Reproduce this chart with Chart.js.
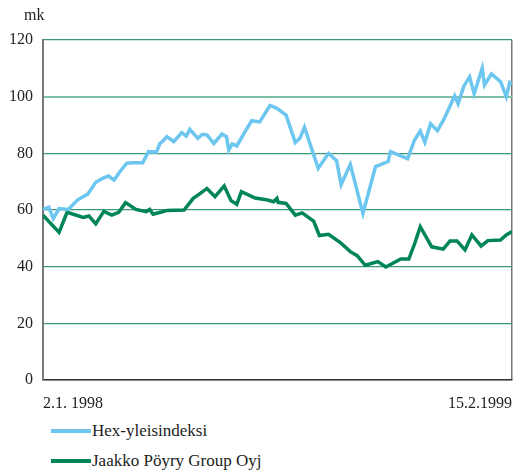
<!DOCTYPE html>
<html>
<head>
<meta charset="utf-8">
<script src="https://cdn.jsdelivr.net/npm/chart.js@4/dist/chart.umd.min.js"></script>
<style>
  html, body { margin: 0; padding: 0; background: #fff; }
  body { width: 514px; height: 473px; position: relative; overflow: hidden; font-family: "Liberation Serif", "DejaVu Serif", serif; color: #222; }
  #wrap { position: absolute; left: 0; top: 0; width: 514px; height: 415px; }
  #unit { position: absolute; left: 24px; top: 6px; font-size: 16px; }
  .leg { position: absolute; left: 51px; font-size: 17px; display: flex; align-items: center; }
  .sw { width: 40px; height: 4px; margin-right: 1px; }
</style>
</head>
<body>
<div id="wrap"><canvas id="c" width="514" height="415"></canvas></div>
<div id="unit">mk</div>
<div class="leg" style="top:421px"><span class="sw" style="background:#6cc6ef"></span><span id="l1"></span></div>
<div class="leg" style="top:451px"><span class="sw" style="background:#00845a"></span><span id="l2"></span></div>
<script>
// Days since 2.1.1998
const seriesNames = ["Hex-yleisindeksi", "Jaakko Pöyry Group Oyj"];
const xTickLabels = ["2.1. 1998", "15.2.1999"];
const xRange = [0, 409];
const yTicks = [0, 20, 40, 60, 80, 100, 120];

const hexDays = [0, 5, 9, 14, 22, 30, 39, 46, 52, 57, 62, 67, 73, 78, 87, 92, 99, 102, 104, 108, 114, 121, 125, 128, 135, 139, 143, 149, 156, 160, 162, 165, 169, 177, 182, 189, 198, 204, 212, 220, 224, 228, 240, 249, 256, 260, 268, 279, 290, 301, 303, 318, 324, 329, 333, 338, 344, 350, 359, 362, 367, 372, 376, 383, 385, 391, 399, 404, 407, 409];
const hexValues = [60.2, 61, 57, 60.5, 60.2, 63.5, 65.6, 69.8, 71.2, 72, 70.6, 73.5, 76.5, 76.7, 76.7, 80.6, 80.5, 83.5, 84.1, 85.9, 84.1, 87.3, 86.1, 88.5, 85.3, 86.7, 86.5, 83.5, 86.8, 85.9, 81.2, 83.3, 82.6, 88.2, 91.5, 91.1, 96.9, 95.9, 93.5, 83.8, 85.3, 89.2, 74.7, 80, 77.4, 69, 76.1, 58.8, 75.3, 77.1, 80.6, 78.1, 84.7, 87.9, 83.9, 90.4, 88, 92.3, 100.3, 97.5, 103.7, 107, 101, 110, 104.1, 108, 105.3, 100, 105, 104.5];

const jpDays = [0, 14, 21, 35, 40, 46, 53, 60, 66, 72, 81, 90, 93, 96, 108, 123, 131, 136, 143, 150, 158, 164, 169, 173, 185, 196, 201, 204, 205, 212, 220, 226, 236, 241, 249, 259, 268, 274, 281, 292, 299, 312, 319, 324, 329, 339, 349, 355, 361, 368, 374, 382, 388, 399, 404, 409];
const jpValues = [58.2, 52.1, 59.2, 57.4, 57.9, 55.1, 59.5, 58.2, 59.2, 62.6, 60.2, 59.4, 60.2, 58.5, 59.8, 60, 64.1, 65.5, 67.6, 64.7, 68.5, 63.3, 62, 66.5, 64.2, 63.5, 62.9, 64.1, 62.7, 62.3, 58.2, 59, 56.1, 51, 51.4, 48.6, 45.3, 43.9, 40.5, 41.8, 39.9, 42.7, 42.7, 48, 54.1, 47, 46.2, 49.1, 49.1, 45.9, 51.2, 47.3, 49.2, 49.4, 51.2, 52.4];

document.getElementById('l1').textContent = seriesNames[0];
document.getElementById('l2').textContent = seriesNames[1];

const toPts = (xs, ys) => xs.map((x, i) => ({ x: x, y: ys[i] }));
const font = { family: "'Liberation Serif', 'DejaVu Serif', serif", size: 16 };

new Chart(document.getElementById('c'), {
  type: 'line',
  data: {
    datasets: [
      { label: seriesNames[0], data: toPts(hexDays, hexValues), borderColor: '#6cc6ef', borderWidth: 3.5, pointRadius: 0, tension: 0, borderJoinStyle: 'miter' },
      { label: seriesNames[1], data: toPts(jpDays, jpValues), borderColor: '#00845a', borderWidth: 3.5, pointRadius: 0, tension: 0, borderJoinStyle: 'miter' }
    ]
  },
  options: {
    responsive: false,
    animation: false,
    layout: { padding: { top: 40, right: 2, left: 0, bottom: 0 } },
    plugins: { legend: { display: false }, tooltip: { enabled: false } },
    scales: {
      x: {
        type: 'linear', min: xRange[0], max: xRange[1],
        afterBuildTicks: (s) => { s.ticks = xRange.map(v => ({ value: v })); },
        afterFit: (s) => { s.height = 35; s.paddingLeft = 0; s.paddingRight = 0; },
        ticks: { align: 'inner', maxRotation: 0, padding: 14, color: '#222', font: font,
                 callback: (v, i) => xTickLabels[i] },
        grid: { drawTicks: false, lineWidth: 1.5, color: (ctx) => ctx.index === 1 ? '#777' : 'rgba(0,0,0,0)' },
        border: { color: '#333', width: 1.5 }
      },
      y: {
        min: 0, max: 120,
        afterBuildTicks: (s) => { s.ticks = yTicks.map(v => ({ value: v })); },
        afterFit: (s) => { s.width = 43; },
        ticks: { padding: 10, color: '#222', font: font },
        grid: { drawTicks: false,
                color: (ctx) => ctx.tick && ctx.tick.value === 100 ? '#7cc0a4' : '#3a9a78',
                lineWidth: (ctx) => ctx.tick && ctx.tick.value === 100 ? 2 : 1.2 },
        border: { color: '#777', width: 2 }
      }
    }
  }
});
</script>
</body>
</html>
